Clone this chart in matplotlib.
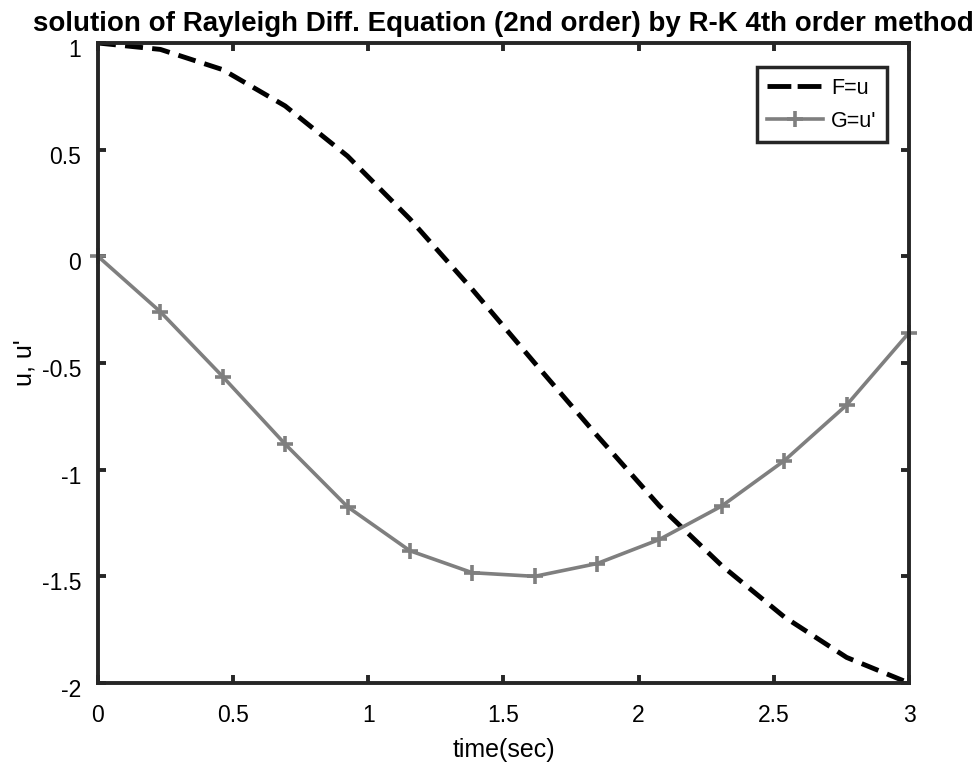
import numpy as np
import matplotlib
matplotlib.use("Agg")
import matplotlib.pyplot as plt
import matplotlib.transforms as mtransforms

# time steps (14 points from 0 to 3 sec)
t = [0.0, 0.2308, 0.4615, 0.6923, 0.9231, 1.1538, 1.3846,
     1.6154, 1.8462, 2.0769, 2.3077, 2.5385, 2.7692, 3.0]
# F = u
F = [1.0, 0.97, 0.875, 0.705, 0.47, 0.175, -0.155,
     -0.50, -0.84, -1.17, -1.45, -1.69, -1.88, -2.0]
# G = u'
G = [0.0, -0.26, -0.564, -0.88, -1.174, -1.38, -1.483,
     -1.50, -1.44, -1.327, -1.17, -0.958, -0.697, -0.358]

xticks = [0, 0.5, 1, 1.5, 2, 2.5, 3]
xtick_labels = ["0", "0.5", "1", "1.5", "2", "2.5", "3"]
yticks = [-2, -1.5, -1, -0.5, 0, 0.5, 1]
ytick_labels = ["-2", "-1.5", "-1", "-0.5", "0", "0.5", "1"]

plt.rcParams['font.family'] = ['Liberation Sans', 'DejaVu Sans']

fig = plt.figure(figsize=(9.77, 7.64), dpi=100)
ax = fig.add_axes([0.1003, 0.106, 0.8301, 0.8377])

# solution curves
ax.plot(t, F, color="black", lw=3.5, linestyle=(0, (3.7, 1.9)),
        label="F=u")
ax.plot(t, G, color="#7f7f7f", lw=2.6, marker="+", markersize=12,
        markeredgewidth=2.6, label="G=u'", clip_on=False)

ax.set_xlim(0, 3)
ax.set_ylim(-2, 1)
ax.set_xticks(xticks)
ax.set_xticklabels(xtick_labels)
ax.set_yticks(yticks)
ax.set_yticklabels(ytick_labels)

for s in ax.spines.values():
    s.set_linewidth(2.8)
    s.set_color("#262626")
ax.tick_params(direction="in", length=6, width=2.8, color="#262626",
               top=True, right=True, labelsize=16.5)
ax.tick_params(axis="x", pad=15)
ax.tick_params(axis="y", pad=12)

# matlab puts the y tick labels a little below the tick
shift = mtransforms.ScaledTranslation(0, -5 / 100, fig.dpi_scale_trans)
for lab in ax.get_yticklabels():
    lab.set_transform(lab.get_transform() + shift)

ax.set_xlabel("time(sec)", fontsize=18, labelpad=8)
ax.set_ylabel("u, u'", fontsize=18, labelpad=4)
ax.set_title("solution of Rayleigh Diff. Equation (2nd order) by R-K 4th order method",
             fontsize=20, fontweight="bold", pad=9)

leg = ax.legend(loc="upper right", bbox_to_anchor=(0.973, 0.9625), fontsize=15.5,
                fancybox=False, framealpha=1, edgecolor="#262626",
                handlelength=2.6, borderpad=0.5, labelspacing=0.55,
                handletextpad=0.35, borderaxespad=0)
leg.get_frame().set_linewidth(2.5)
# two long dashes in the legend sample, as in the original
leg.get_lines()[0].set_linestyle((0, (4.9, 1.3)))

fig.savefig("out.png", dpi=100)
